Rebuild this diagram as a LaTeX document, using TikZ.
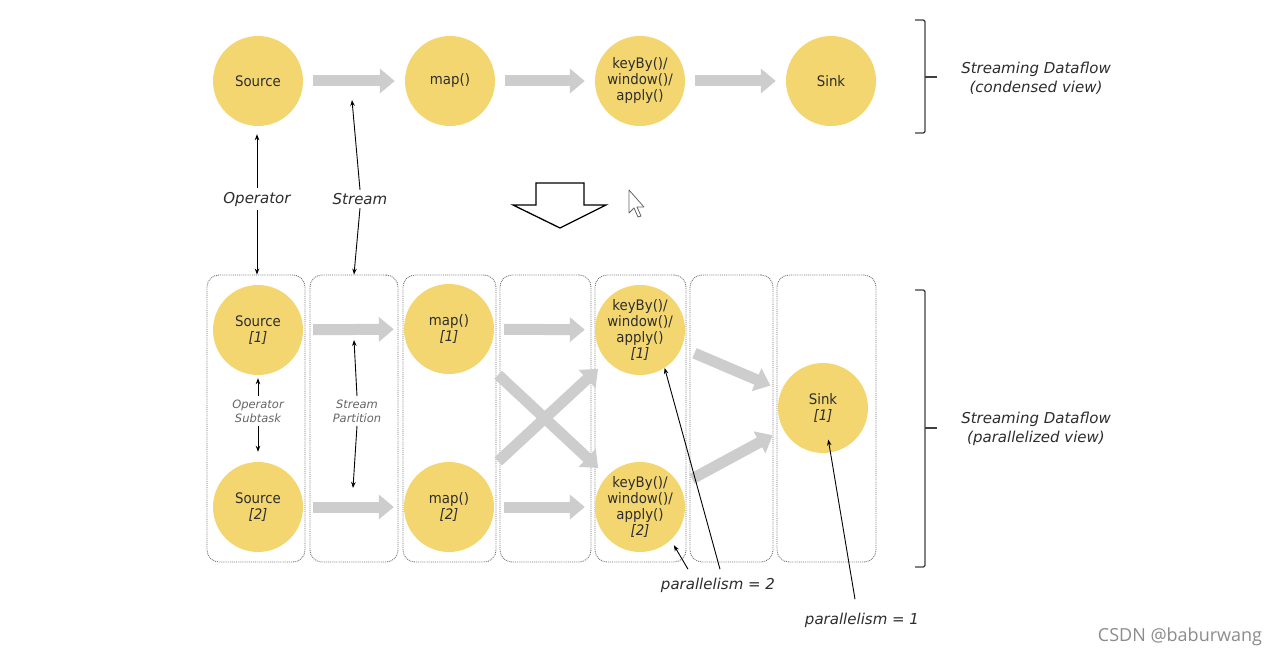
\documentclass[tikz,border=0pt]{standalone}
\usepackage{fontspec}
\setmainfont{DejaVu Sans}
\newfontfamily\circfont[FakeStretch=0.92]{DejaVu Sans}
\newfontfamily\csdnfont{Open Sans}
\usetikzlibrary{arrows.meta}
\definecolor{opyellow}{RGB}{244,214,112}
\definecolor{flowgray}{RGB}{205,205,205}
\definecolor{labelgray}{RGB}{45,45,45}
\tikzset{
  op/.style={circle, fill=opyellow, minimum size=90pt, inner sep=0pt, align=center,
    font=\circfont\fontsize{14.5}{16}\selectfont, text=labelgray},
  flow/.style={draw=flowgray, line width=11pt, -{Triangle[length=15pt,width=24pt]},
    shorten <=10pt, shorten >=10pt},
  col/.style={draw=black!55, densely dotted, line width=0.9pt, rounded corners=12pt,
    minimum height=287pt, inner sep=0pt},
  pointer/.style={-{Stealth[length=6pt,width=4.5pt]}, line width=0.9pt},
  lbl/.style={font=\itshape\fontsize{15}{19}\selectfont, text=labelgray, align=center},
  sublbl/.style={font=\itshape\fontsize{11.5}{14}\selectfont, text=black!60, align=center},
  brace/.style={line width=1.3pt, draw=black!75, rounded corners=2pt}
}
\begin{document}
\begin{tikzpicture}[x=1pt,y=-1pt]
\useasboundingbox[fill=white] (0,0) rectangle (1282,658);
\node[op] (src) at (258,81) {Source};
\node[op] (map) at (450,81) {map()};
\node[op] (kw) at (640,81) {keyBy()/\\window()/\\apply()};
\node[op] (sink) at (831,81) {Sink};
\draw[flow] (src) -- (map);
\draw[flow] (map) -- (kw);
\draw[flow] (kw) -- (sink);
\draw[brace] (915,20) -- (925,20) -- (925,133) -- (915,133);
\draw[brace] (925,77) -- (937,77);
\node[lbl] (condensed) at (1036,78) {Streaming Dataflow\\(condensed view)};
\foreach \cx/\w [count=\i] in {256/98,354/88,449.5/93,545.5/91,640.5/91,731.5/83,826.5/99}
  \node[col, minimum width=\w pt] (col\i) at (\cx,418.5) {};
\node[op] (src1) at (258,330) {Source\\\textit{[1]}};
\node[op] (src2) at (258,507) {Source\\\textit{[2]}};
\node[op] (map1) at (449,329) {map()\\\textit{[1]}};
\node[op] (map2) at (449,507) {map()\\\textit{[2]}};
\node[op] (kw1) at (640,330) {keyBy()/\\window()/\\apply()\\\textit{[1]}};
\node[op] (kw2) at (640,507) {keyBy()/\\window()/\\apply()\\\textit{[2]}};
\node[op] (sink1) at (823,408) {Sink\\\textit{[1]}};
\draw[flow] (src1) -- (map1);
\draw[flow] (src2) -- (map2);
\draw[flow] (map1) -- (kw1);
\draw[flow] (map2) -- (kw2);
\draw[flow, shorten <=22pt, shorten >=12pt] (map1) -- (kw2);
\draw[flow, shorten <=22pt, shorten >=12pt] (map2) -- (kw1);
\draw[flow, shorten <=14pt, shorten >=12pt] (kw1) -- (sink1);
\draw[flow, shorten <=14pt, shorten >=12pt] (kw2) -- (sink1);
\node[lbl] (oplbl) at (257,199) {Operator};
\node[lbl] (strlbl) at (360,199) {Stream};
\coordinate (strtip) at (352,100);
\draw[pointer, shorten >=8pt] (oplbl.north) -- (oplbl.north |- src.south);
\draw[pointer] (oplbl.south) -- (oplbl.south |- col1.north);
\draw[pointer] (strlbl.north) -- (strtip);
\draw[pointer] (strlbl.south) -- (col2.north);
\node[sublbl] (subtask) at (258,411) {Operator\\Subtask};
\draw[pointer, shorten >=3pt] (subtask.north) -- (src1.south);
\draw[pointer, shorten >=10pt] (subtask.south) -- (src2.north);
\node[sublbl] (part) at (357,411) {Stream\\Partition};
\coordinate (parttop) at (354,340);
\coordinate (partbot) at (353,488);
\draw[pointer] (part.north) -- (parttop);
\draw[pointer] (part.south) -- (partbot);
\draw[line width=1.3pt, line join=miter] (536,183) -- (584,183) -- (584,205) -- (606,205) -- (560,228) -- (513,205) -- (536,205) -- cycle;
\draw[fill=white, draw=black!60, line width=0.8pt, line join=round] (629,190) -- (629,213) -- (634,208) -- (638,217) -- (641,216) -- (637,207) -- (644,207) -- cycle;
\node[lbl] (par2) at (718,585) {parallelism = 2};
\draw[pointer] ([xshift=2pt,yshift=5pt]par2.north) -- (kw1.-57);
\draw[pointer, shorten >=6pt] ([xshift=-30pt,yshift=5pt]par2.north) -- (kw2.-47);
\node[lbl] (par1) at (862,620) {parallelism = 1};
\draw[pointer, shorten >=32pt] ([xshift=-7pt,yshift=10pt]par1.north) -- (sink1.center);
\draw[brace] (915,290) -- (925,290) -- (925,567) -- (915,567);
\draw[brace] (925,428) -- (937,428);
\node[lbl] (parview) at (1036,429) {Streaming Dataflow\\(parallelized view)};
\node[font=\csdnfont\fontsize{18}{21}\selectfont, text=black!45] (csdn) at (1180,637) {CSDN @baburwang};
\end{tikzpicture}
\end{document}
